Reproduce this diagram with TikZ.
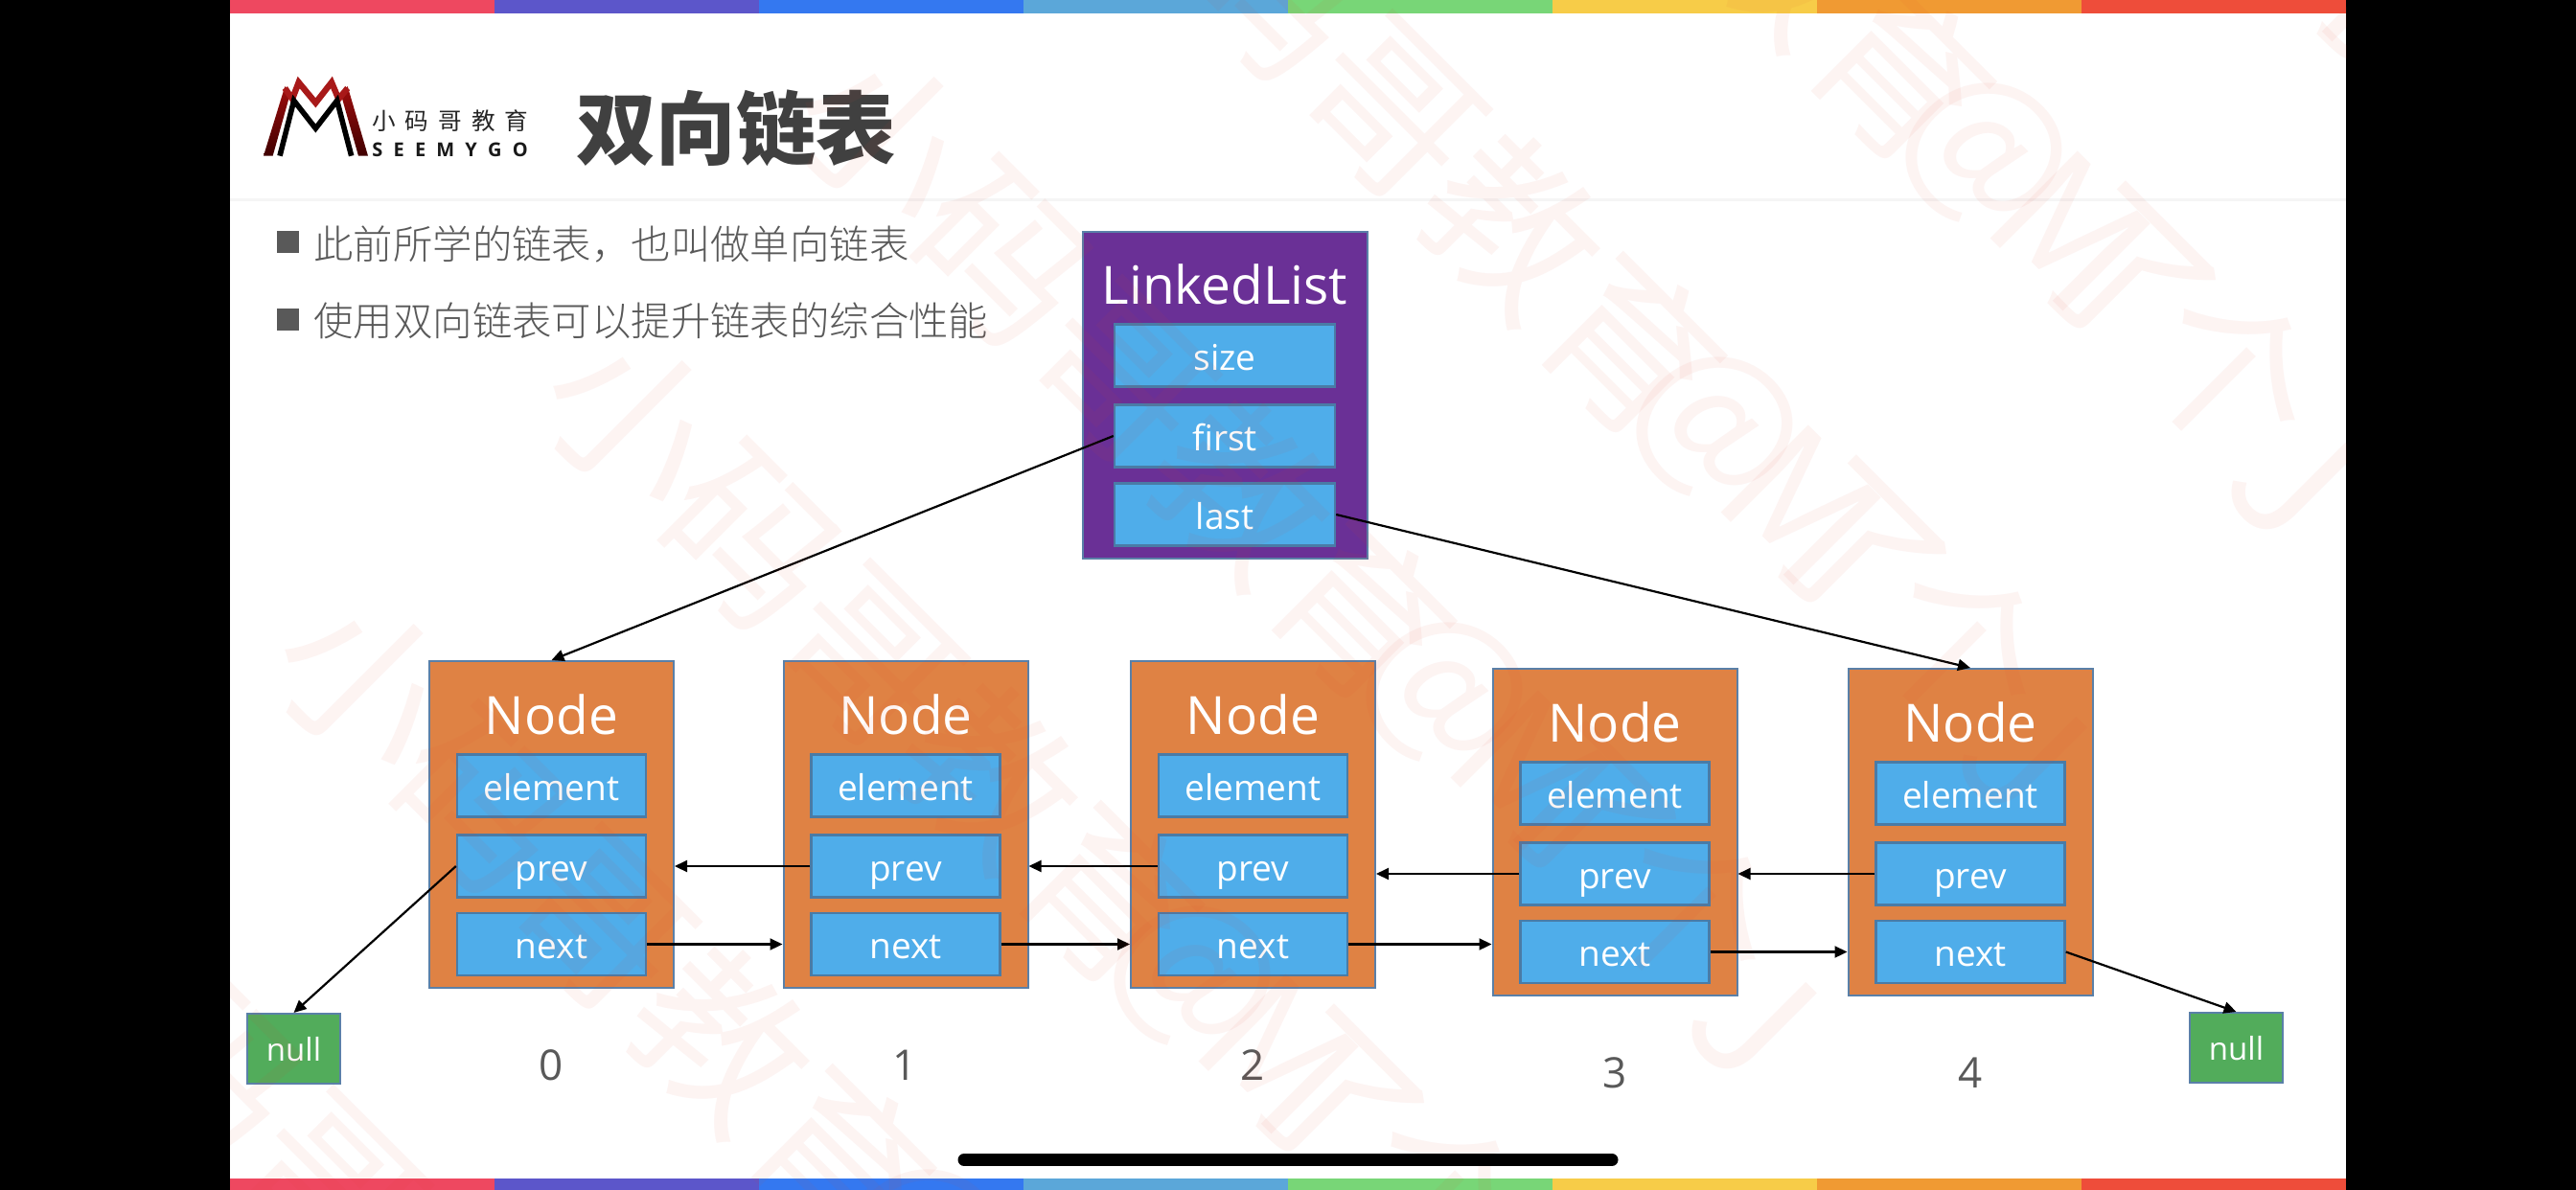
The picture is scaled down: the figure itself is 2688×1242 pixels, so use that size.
\documentclass[tikz,border=0pt]{standalone}
\usepackage{fontspec}
\setmainfont{Open Sans}
\newfontfamily\cjk{Noto Sans CJK SC}
\newfontfamily\cjklight{Noto Sans CJK SC Light}
\newfontfamily\cjkheavy{Noto Sans CJK SC Black}
\usetikzlibrary{arrows.meta}
\definecolor{cOrange}{HTML}{DF8244}
\definecolor{cBlue}{HTML}{4FADEA}
\definecolor{cPurple}{HTML}{6A3096}
\definecolor{cGreen}{HTML}{52AC5B}
\definecolor{cEdge}{HTML}{5A80A8}
\definecolor{cInner}{HTML}{4A7BA6}
\definecolor{cGray}{HTML}{595959}
\definecolor{cWm}{HTML}{E0452F}
\definecolor{b1}{HTML}{EE4860}
\definecolor{b2}{HTML}{5C56CA}
\definecolor{b3}{HTML}{3478F0}
\definecolor{b4}{HTML}{5BA7D9}
\definecolor{b5}{HTML}{78D677}
\definecolor{b6}{HTML}{F7CC48}
\definecolor{b7}{HTML}{F09A33}
\definecolor{b8}{HTML}{EE4D3A}
\tikzset{
  nodebox/.style={draw=cEdge,line width=1pt,fill=cOrange,minimum width=127.5pt,minimum height=170.5pt,inner sep=0pt},
  listbox/.style={draw=cEdge,line width=1pt,fill=cPurple,minimum width=148.5pt,minimum height=170.5pt,inner sep=0pt},
  field/.style={draw=cInner,line width=1.2pt,fill=cBlue,text=white,font=\fontsize{18.5pt}{20pt}\selectfont,inner sep=0pt,text height=19pt,text depth=4pt},
  nfield/.style={field,minimum width=98.5pt,minimum height=32.5pt},
  lfield/.style={field,minimum width=115pt,minimum height=32.5pt},
  boxtitle/.style={text=white,anchor=base,inner sep=0pt,font=\fontsize{27.5pt}{30pt}\selectfont},
  nullbox/.style={draw=cEdge,line width=1pt,fill=cGreen,text=white,minimum width=48.5pt,minimum height=36.5pt,inner sep=0pt,font=\fontsize{16.5pt}{18pt}\selectfont,text height=17pt,text depth=4pt},
  idx/.style={text=cGray,inner sep=0pt,font=\fontsize{22pt}{24pt}\selectfont},
  arr/.style={draw=black,line width=1.1pt,-{Triangle[length=6.5pt,width=6pt]}},
  bul/.style={fill=cGray,minimum width=11.5pt,minimum height=11.5pt,inner sep=0pt},
  bultext/.style={anchor=west,inner sep=0pt,text=cGray,font=\cjklight\fontsize{20.7pt}{24pt}\selectfont},
  wmk/.style={rotate=-45,inner sep=0pt,text=cWm,text opacity=.06,font=\cjk\fontsize{88pt}{90pt}\selectfont},
}
\newcommand{\wmline}[3]{%
  \node[wmk] (wm#1a) at ({#2-340},{#3-340}) {小码哥教育};
  \node[wmk] (wm#1b) at ({#2-6},{#3-6}) {@};
  \node[wmk] (wm#1c) at ({#2+85},{#3+75}) {M};
  \node[wmk] (wm#1d) at ({#2+140},{#3+125}) {了};
  \node[wmk] (wm#1e) at ({#2+253},{#3+222}) {个};
  \node[wmk] (wm#1f) at ({#2+316},{#3+333}) {J};
}
\begin{document}
\begin{tikzpicture}[x=0.5pt,y=-0.5pt]
\useasboundingbox (0,0) rectangle (2688,1242);
\fill[black] (0,0) rectangle (2688,1242);
\fill[white] (240,0) rectangle (2448,1242);
% colour bars
\foreach \c [count=\i from 0] in {b1,b2,b3,b4,b5,b6,b7,b8}{
  \fill[\c] ({240+276*\i},0) rectangle ({240+276*(\i+1)},13.5);
  \fill[\c] ({240+276*\i},1230) rectangle ({240+276*(\i+1)},1242);
}
\fill[black!4] (240,207) rectangle (2448,209.5);
% logo
\begin{scope}[shift={(270,70)},x=0.16667pt,y=-0.16667pt]
  \shade[top color=red!60!black!95,bottom color=black!75!red] (15,278) -- (44,278) -- (98,85) -- (82,60) -- cycle;
  \shade[top color=red!60!black!95,bottom color=black!75!red] (312,278) -- (342,278) -- (278,60) -- (258,88) -- cycle;
  \draw[line width=3.2pt,color=red!62!black!90,miter limit=6] (82,66) -- (105,100) -- (125,48) -- (178,112) -- (228,48) -- (250,100) -- (278,66);
  \draw[line width=2.8pt,black,miter limit=6] (66,278) -- (110,105) -- (178,192) -- (245,105) -- (290,278);
  \node[anchor=west,inner sep=0pt,text=black!85,font=\cjk\fontsize{12.3pt}{14pt}\selectfont] (logocn) at (354,168) {小\hspace{5pt}码\hspace{5pt}哥\hspace{5pt}教\hspace{5pt}育};
  \node[anchor=base west,inner sep=0pt,text=black!90,font=\bfseries\fontsize{10pt}{11pt}\selectfont] (logoen) at (354,279) {S\hspace{5.6pt}E\hspace{5.6pt}E\hspace{5.6pt}M\hspace{5.6pt}Y\hspace{5.6pt}G\hspace{5.6pt}O};
\end{scope}
% heading
\node[anchor=west,inner sep=0pt,text=black!75,font=\cjkheavy\fontsize{41.7pt}{44pt}\selectfont] (head) at (601,134) {双向链表};
\node[bul] (bu1) at (300.5,252) {};
\node[bultext] (bt1) at (327,255) {此前所学的链表，也叫做单向链表};
\node[bul] (bu2) at (300.5,333) {};
\node[bultext] (bt2) at (327,335) {使用双向链表可以提升链表的综合性能};
% LinkedList
\node[listbox] (list) at (1278.5,412.5) {};
\node[boxtitle] (listT) at (1278,317) {LinkedList};
\node[lfield] (ls) at (1278,371) {size};
\node[lfield] (lf) at (1278,455) {first};
\node[lfield] (ll) at (1278,537) {last};
% nodes
\foreach \i/\cx/\cy in {0/575.5/860.5,1/945/860.5,2/1307.5/860.5,3/1685/868.5,4/2056/868.5}{
  \node[nodebox] (n\i) at (\cx,\cy) {};
  \node[boxtitle] (t\i) at (\cx,{\cy-94}) {Node};
  \node[nfield] (e\i) at (\cx,{\cy-40.5}) {element};
  \node[nfield] (p\i) at (\cx,{\cy+43.5}) {prev};
  \node[nfield] (x\i) at (\cx,{\cy+125}) {next};
}
\node[idx] (i0) at (575,1112) {0};
\node[idx] (i1) at (944,1112) {1};
\node[idx] (i2) at (1307,1112) {2};
\node[idx] (i3) at (1685.5,1120) {3};
\node[idx] (i4) at (2056.5,1120) {4};
\node[nullbox] (nullL) at (306.5,1094.5) {null};
\node[nullbox] (nullR) at (2333.5,1093.5) {null};
% connectors
\draw[arr] (lf.west) -- (n0.north);
\draw[arr] (ll.east) -- (n4.north);
\draw[arr] (p0.west) -- (nullL.north);
\draw[arr] (x4.east) -- (nullR.north);
\draw[arr] (x0.east) -- (x0.east -| n1.west);
\draw[arr] (x1.east) -- (x1.east -| n2.west);
\draw[arr] (x2.east) -- (x2.east -| n3.west);
\draw[arr] (x3.east) -- (x3.east -| n4.west);
\draw[arr] (p1.west) -- (p1.west -| n0.east);
\draw[arr] (p2.west) -- (p2.west -| n1.east);
\draw[arr] (p3.west) -- (p3.west -| n2.east);
\draw[arr] (p4.west) -- (p4.west -| n3.east);
% watermark
\begin{scope}
  \clip (240,0) rectangle (2448,1242);
  \wmline{A}{2357}{-115}
  \wmline{B}{2076}{166}
  \wmline{C}{1795}{452}
  \wmline{D}{1513}{729}
  \wmline{E}{1250}{1025}
  \wmline{F}{970}{1300}
  \wmline{G}{690}{1575}
\end{scope}
% home indicator
\draw[black,line width=6.5pt,line cap=round] (1006,1210.5) -- (1682,1210.5);
\end{tikzpicture}
\end{document}
